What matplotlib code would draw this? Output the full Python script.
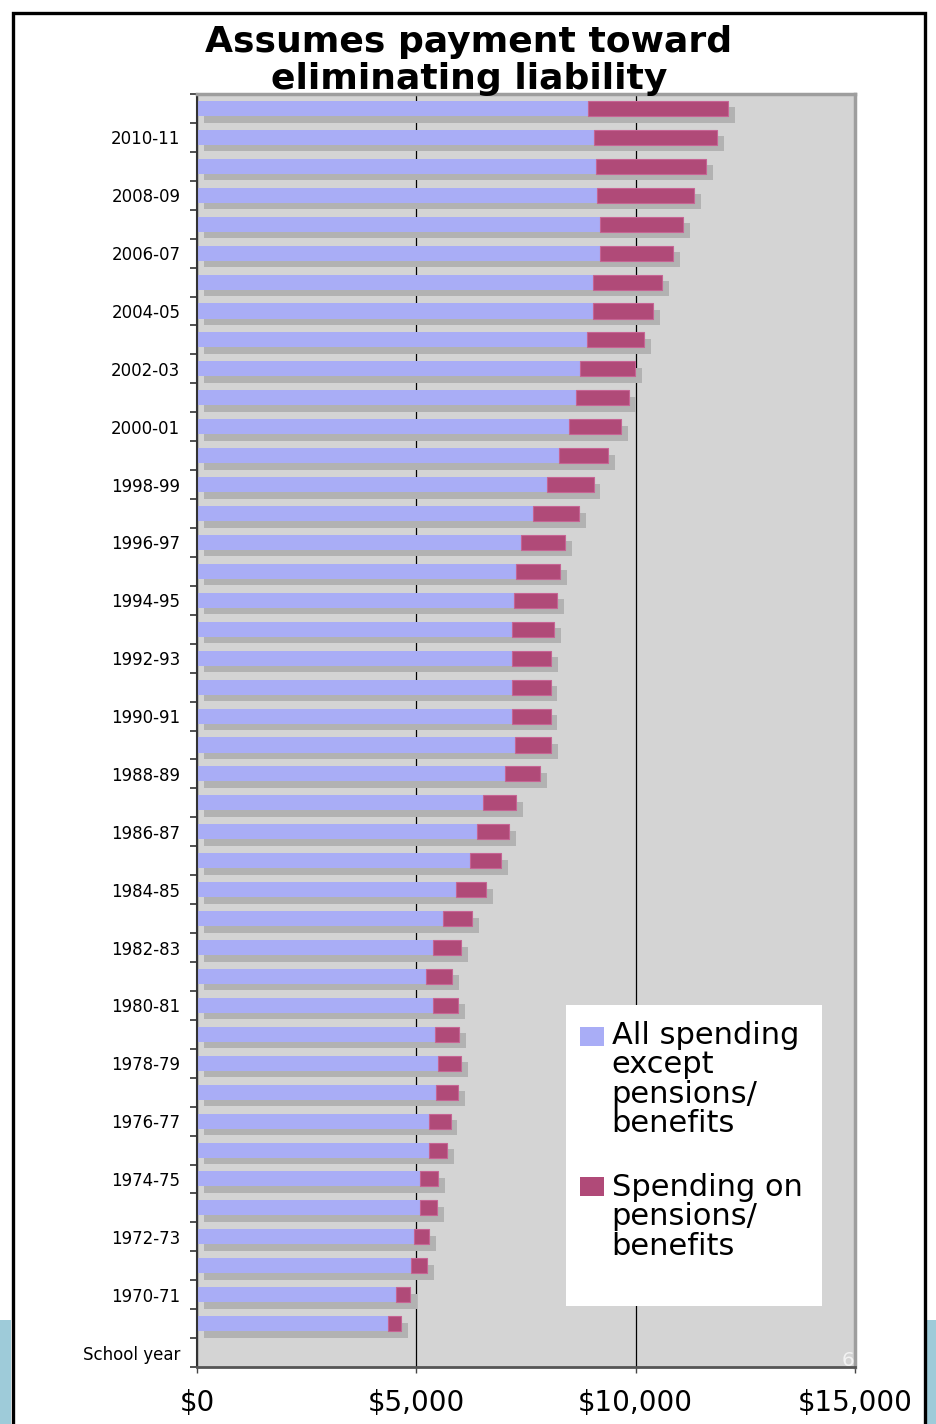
import numpy as np
import matplotlib
matplotlib.use('Agg')
import matplotlib.pyplot as plt
import matplotlib.patheffects as pe
from matplotlib.patches import Rectangle

# school years, oldest first (1969-70 .. 2011-12)
years = ['%d-%02d' % (y, (y + 1) % 100) for y in range(1969, 2012)]

# per-pupil spending, dollars
other_spending = [4360, 4540, 4890, 4940, 5090, 5090, 5280, 5300, 5460, 5500,
                  5420, 5370, 5220, 5390, 5610, 5910, 6220, 6380, 6510, 7030,
                  7240, 7190, 7190, 7190, 7190, 7220, 7280, 7380, 7670, 7970,
                  8250, 8490, 8640, 8730, 8880, 9020, 9020, 9180, 9180, 9130,
                  9100, 9050, 8920]
pension_spending = [300, 320, 350, 360, 390, 410, 430, 480, 490, 520,
                    550, 580, 600, 620, 660, 680, 710, 740, 770, 800,
                    830, 870, 870, 880, 950, 980, 990, 1000, 1030, 1070,
                    1110, 1180, 1200, 1260, 1320, 1380, 1590, 1670, 1900, 2210,
                    2500, 2800, 3190]

x_ticks = [0, 5000, 10000, 15000]
x_labels = ['$0', '$5,000', '$10,000', '$15,000']

blue = '#a9adf6'
plum = '#b04a78'
shadow = [pe.SimplePatchShadow(offset=(5, -4.7), shadow_rgbFace='#b2b2b2', alpha=1.0), pe.Normal()]

fig = plt.figure(figsize=(9.37, 14.24), dpi=100)

# slide frame and the blue strip behind it
fig.patches.append(Rectangle((0, 0), 11 / 937, 104 / 1424, transform=fig.transFigure,
                             facecolor='#9ecbd9', edgecolor='none', zorder=0))
fig.patches.append(Rectangle((927 / 937, 0), 10 / 937, 104 / 1424, transform=fig.transFigure,
                             facecolor='#9ecbd9', edgecolor='none', zorder=0))
fig.patches.append(Rectangle((13 / 937, -0.05), 912.5 / 937, 1.0409, transform=fig.transFigure,
                             facecolor='none', edgecolor='black', linewidth=2.4, zorder=1))

ax = fig.add_axes([0.2102, 0.0400, 0.7023, 0.8940])
ax.set_facecolor('#d4d4d4')
ax.set_axisbelow(True)

# slot 0 is the "School year" row, bars start at slot 1
pos = np.arange(1, len(years) + 1)
ax.barh(pos, other_spending, height=0.52, color=blue, edgecolor='none', path_effects=shadow)
ax.barh(pos, pension_spending, left=other_spending, height=0.52, color=plum,
        edgecolor='#c66494', linewidth=0.8, path_effects=shadow)

ax.set_xlim(0, 15000)
ax.set_ylim(-0.5, len(years) + 0.5)

ax.set_xticks(x_ticks)
ax.set_xticklabels(x_labels, fontsize=20, family='DejaVu Sans')
ax.tick_params(axis='x', length=4, width=1, color='#444444', pad=12)
ax.grid(axis='x', color='black', linewidth=0.9)

ylabel_pos = [0] + list(pos[1::2])
ylabel_txt = ['School year'] + years[1::2]
ax.set_yticks(ylabel_pos)
ax.set_yticklabels(ylabel_txt, fontsize=12, family='DejaVu Sans')
ax.set_yticks(np.arange(-0.5, len(years) + 1, 1), minor=True)
ax.tick_params(axis='y', which='major', length=0, pad=12)
ax.tick_params(axis='y', which='minor', length=5, width=1.2, color='#333333')

for s in ['top', 'right']:
    ax.spines[s].set_color('#9e9e9e')
    ax.spines[s].set_linewidth(2.5)
ax.spines['left'].set_color('#333333')
ax.spines['left'].set_linewidth(1.5)
ax.spines['bottom'].set_color('#555555')
ax.spines['bottom'].set_linewidth(2)

# legend box
ax.add_patch(Rectangle((0.561, 0.048), 0.389, 0.236, transform=ax.transAxes,
                       facecolor='white', edgecolor='none', zorder=5))
ax.add_patch(Rectangle((0.582, 0.252), 0.037, 0.015, transform=ax.transAxes,
                       facecolor=blue, edgecolor='none', zorder=6))
ax.add_patch(Rectangle((0.582, 0.134), 0.037, 0.015, transform=ax.transAxes,
                       facecolor=plum, edgecolor='none', zorder=6))
ax.text(0.630, 0.2718, 'All spending\nexcept\npensions/\nbenefits', transform=ax.transAxes,
        fontsize=22, va='top', ha='left', linespacing=1.02, zorder=7)
ax.text(0.630, 0.1526, 'Spending on\npensions/\nbenefits', transform=ax.transAxes,
        fontsize=22, va='top', ha='left', linespacing=1.02, zorder=7)

fig.text(0.5005, 0.9575, 'Assumes payment toward\neliminating liability', ha='center', va='center',
         fontsize=26, fontweight='bold', linespacing=1.11)

# slide number
fig.text(848 / 937, 1 - 1360 / 1424, '6', ha='center', va='center', fontsize=14.5, color='#f2f2f2')

fig.savefig('out.png', dpi=100)
